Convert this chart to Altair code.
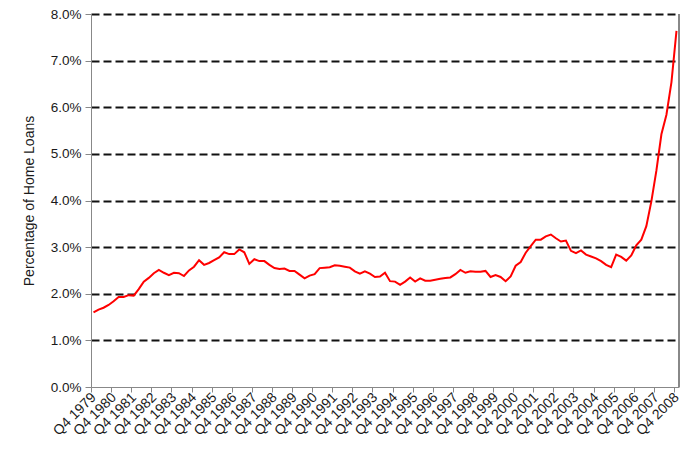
import json
import altair as alt
import pandas as pd

# Quarterly values, Q4 1979 ... Q4 2008 (percent of home loans)
values = [
    1.60, 1.66, 1.70, 1.76, 1.84, 1.93, 1.93, 1.97, 1.96, 2.10,
    2.26, 2.34, 2.44, 2.51, 2.45, 2.40, 2.45, 2.44, 2.38, 2.50,
    2.58, 2.72, 2.62, 2.66, 2.72, 2.78, 2.89, 2.85, 2.85, 2.95,
    2.89, 2.64, 2.74, 2.70, 2.70, 2.62, 2.55, 2.53, 2.54, 2.49,
    2.49, 2.41, 2.33, 2.39, 2.42, 2.55, 2.56, 2.57, 2.61, 2.60,
    2.58, 2.56, 2.48, 2.43, 2.48, 2.43, 2.36, 2.37, 2.45, 2.27,
    2.26, 2.19, 2.26, 2.35, 2.26, 2.33, 2.28, 2.28, 2.30, 2.32,
    2.34, 2.35, 2.42, 2.51, 2.45, 2.48, 2.47, 2.47, 2.49, 2.36,
    2.40, 2.36, 2.27, 2.37, 2.60, 2.68, 2.88, 3.02, 3.16, 3.16,
    3.23, 3.27, 3.19, 3.12, 3.14, 2.92, 2.87, 2.93, 2.84, 2.80,
    2.76, 2.70, 2.62, 2.57, 2.84, 2.79, 2.71, 2.82, 3.04, 3.16,
    3.45, 3.98, 4.64, 5.42, 5.84, 6.54, 7.64,
]

tick_labels = [
    "Q4 1979", "Q4 1980", "Q4 1981", "Q4 1982", "Q4 1983", "Q4 1984",
    "Q4 1985", "Q4 1986", "Q4 1987", "Q4 1988", "Q4 1989", "Q4 1990",
    "Q4 1991", "Q4 1992", "Q4 1993", "Q4 1994", "Q4 1995", "Q4 1996",
    "Q4 1997", "Q4 1998", "Q4 1999", "Q4 2000", "Q4 2001", "Q4 2002",
    "Q4 2003", "Q4 2004", "Q4 2005", "Q4 2006", "Q4 2007", "Q4 2008",
]

y_ticks = [0, 1, 2, 3, 4, 5, 6, 7, 8]

df = pd.DataFrame({"idx": list(range(len(values))), "value": values})

FONT = "Liberation Sans"
W, H = 588, 373

x_axis = alt.Axis(
    values=list(range(0, len(values), 4)),
    labelExpr=json.dumps(tick_labels) + "[round(datum.value / 4)]",
    labelAngle=-45,
    labelAlign="right",
    labelBaseline="middle",
    labelFont=FONT,
    labelFontSize=14,
    labelColor="#1a1a1a",
    labelPadding=3,
    labelOffset=2.5,
    tickOffset=-2.5,
    tickSize=5,
    tickColor="#888888",
    domainColor="#888888",
    grid=False,
    title=None,
    labelOverlap=False,
)

y_axis = alt.Axis(
    values=y_ticks,
    labelExpr="format(datum.value, '.1f') + '%'",
    labelFont=FONT,
    labelFontSize=13.5,
    labelColor="#1a1a1a",
    labelPadding=4,
    tickSize=6,
    tickColor="#888888",
    domainColor="#888888",
    grid=True,
    gridColor="#111111",
    gridWidth=2,
    gridDash=[8, 4],
    gridOpacity=alt.condition("datum.value == 0", alt.value(0), alt.value(1)),
    title="Percentage of Home Loans",
    titleFont=FONT,
    titleFontSize=14,
    titleFontWeight="normal",
    titleColor="#1a1a1a",
    titlePadding=14,
)

line = alt.Chart(df).mark_line(color="#FF0000", strokeWidth=2).encode(
    x=alt.X("idx:Q", scale=alt.Scale(domain=[-0.5, len(values) - 0.5], nice=False, zero=False), axis=x_axis),
    y=alt.Y("value:Q", scale=alt.Scale(domain=[0, 8], nice=False), axis=y_axis),
)

right_border = alt.Chart(df).mark_rule(color="#888888", strokeWidth=1.5).encode(
    x=alt.value(W), y=alt.value(0), y2=alt.value(H)
)

chart = (
    alt.layer(line, right_border)
    .properties(
        width=W,
        height=H,
        autosize=alt.AutoSizeParams(type="none"),
        padding={"left": 83, "top": 6, "right": 2, "bottom": 55},
        background="#ffffff",
    )
    .configure_view(stroke=None)
)

chart.save("out.html", embed_options={"renderer": "svg", "actions": False})
